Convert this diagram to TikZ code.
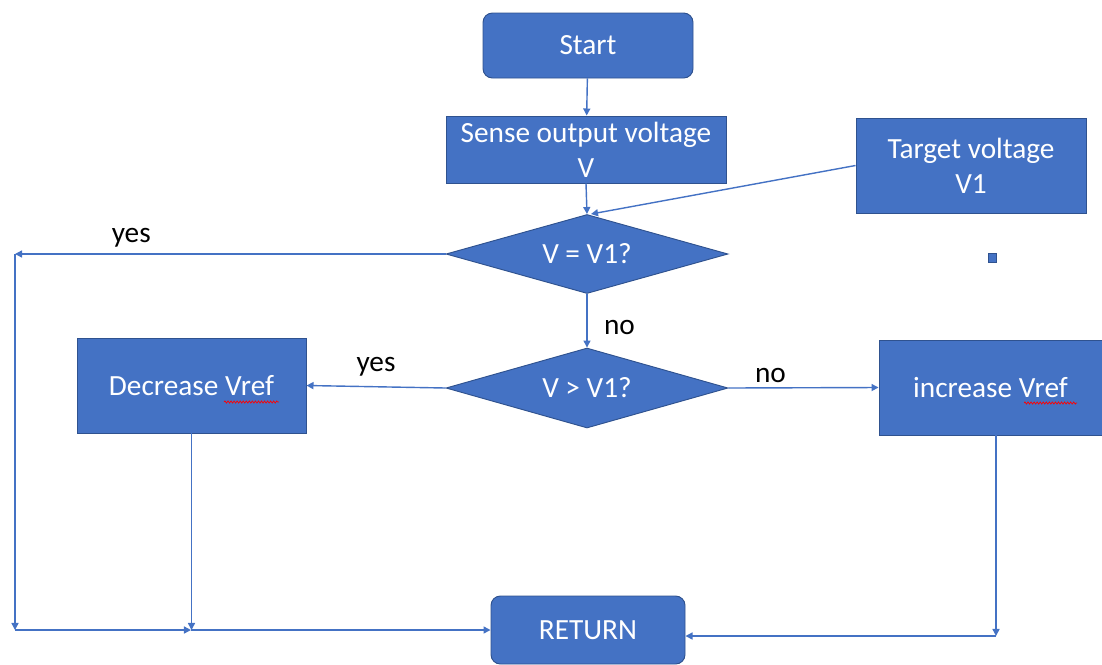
\documentclass[tikz,border=0pt]{standalone}
\usepackage{fontspec}
\setmainfont{Carlito}
\usetikzlibrary{shapes.geometric,arrows.meta,decorations.pathmorphing,calc}
\definecolor{boxblue}{HTML}{4472C4}
\definecolor{boxedge}{HTML}{2F528F}
\begin{document}
\begin{tikzpicture}[x=0.03cm,y=-0.03cm,
  every node/.style={font=\fontsize{25}{30}\selectfont},
  procbox/.style={draw=boxedge,line width=0.8pt,fill=boxblue,text=white,align=center,inner sep=0pt},
  termbox/.style={procbox,rounded corners=8pt},
  decbox/.style={procbox,diamond,aspect=3.57},
  conn/.style={draw=boxblue,line width=1.2pt,-{Triangle[length=6pt,width=6pt]}},
  lbl/.style={text=black,inner sep=0pt},
  spell/.style={draw=red,line width=0.6pt,decorate,decoration={snake,segment length=2.6pt,amplitude=0.9pt}}]
\useasboundingbox (0,0) rectangle (1102,664);
\node[termbox,minimum width=210*0.03cm,minimum height=65*0.03cm] (start) at (588,45.5) {Start};
\node[procbox,minimum width=280*0.03cm,minimum height=67*0.03cm] (sense) at (586,149.5) {Sense output voltage\\V};
\node[procbox,minimum width=230*0.03cm,minimum height=95*0.03cm] (target) at (971,165.5) {Target voltage\\V1};
\node[decbox,minimum width=282*0.03cm,minimum height=79*0.03cm] (d1) at (587,254) {V = V1?};
\node[decbox,minimum width=282*0.03cm,minimum height=80*0.03cm] (d2) at (587,388) {V > V1?};
\node[procbox,minimum width=229*0.03cm,minimum height=95*0.03cm] (dec) at (191.5,385.5) {Decrease Vref};
\node[procbox,minimum width=223*0.03cm,minimum height=95*0.03cm] (inc) at (990.5,387.5) {increase Vref};
\node[termbox,minimum width=194*0.03cm,minimum height=68*0.03cm] (ret) at (588,630) {RETURN};
\node[procbox,minimum width=8*0.03cm,minimum height=9*0.03cm] (dot) at (992,257.5) {};
% spell-check underlines
\draw[spell] (224,402) -- (279,402);
\draw[spell] (1024,403) -- (1077,403);
% connectors
\coordinate (L1) at (15,254);
\coordinate (L2) at (15,630);
\coordinate (M) at (191,630);
\coordinate (R) at (996,636);
\draw[conn] (start) -- (sense);
\draw[conn] (sense.south) -- (d1.north);
\draw[conn] (target.west) -- ($(d1.north)+(4,0)$);
\draw[conn] (d1.west) -- (L1) node[lbl,pos=0.73,above=5pt] {yes};
\draw[conn] (L1) -- (L2);
\draw[conn] (L2) -- (M);
\draw[conn] (dec.south) -- (dec.south |- M);
\draw[conn] (M) -- (ret.west);
\draw[conn] (d1.south) -- (d2.north) node[lbl,pos=0.62,right=14pt] {no};
\draw[conn] (d2.west) -- (dec.east) node[lbl,midway,above=8pt] {yes};
\draw[conn] (d2.east) -- (inc.west) node[lbl,pos=0.28,above=4pt] {no};
\draw[conn] (inc.south -| R) -- (R);
\draw[conn] (R) -- (R -| ret.east);
\end{tikzpicture}
\end{document}
